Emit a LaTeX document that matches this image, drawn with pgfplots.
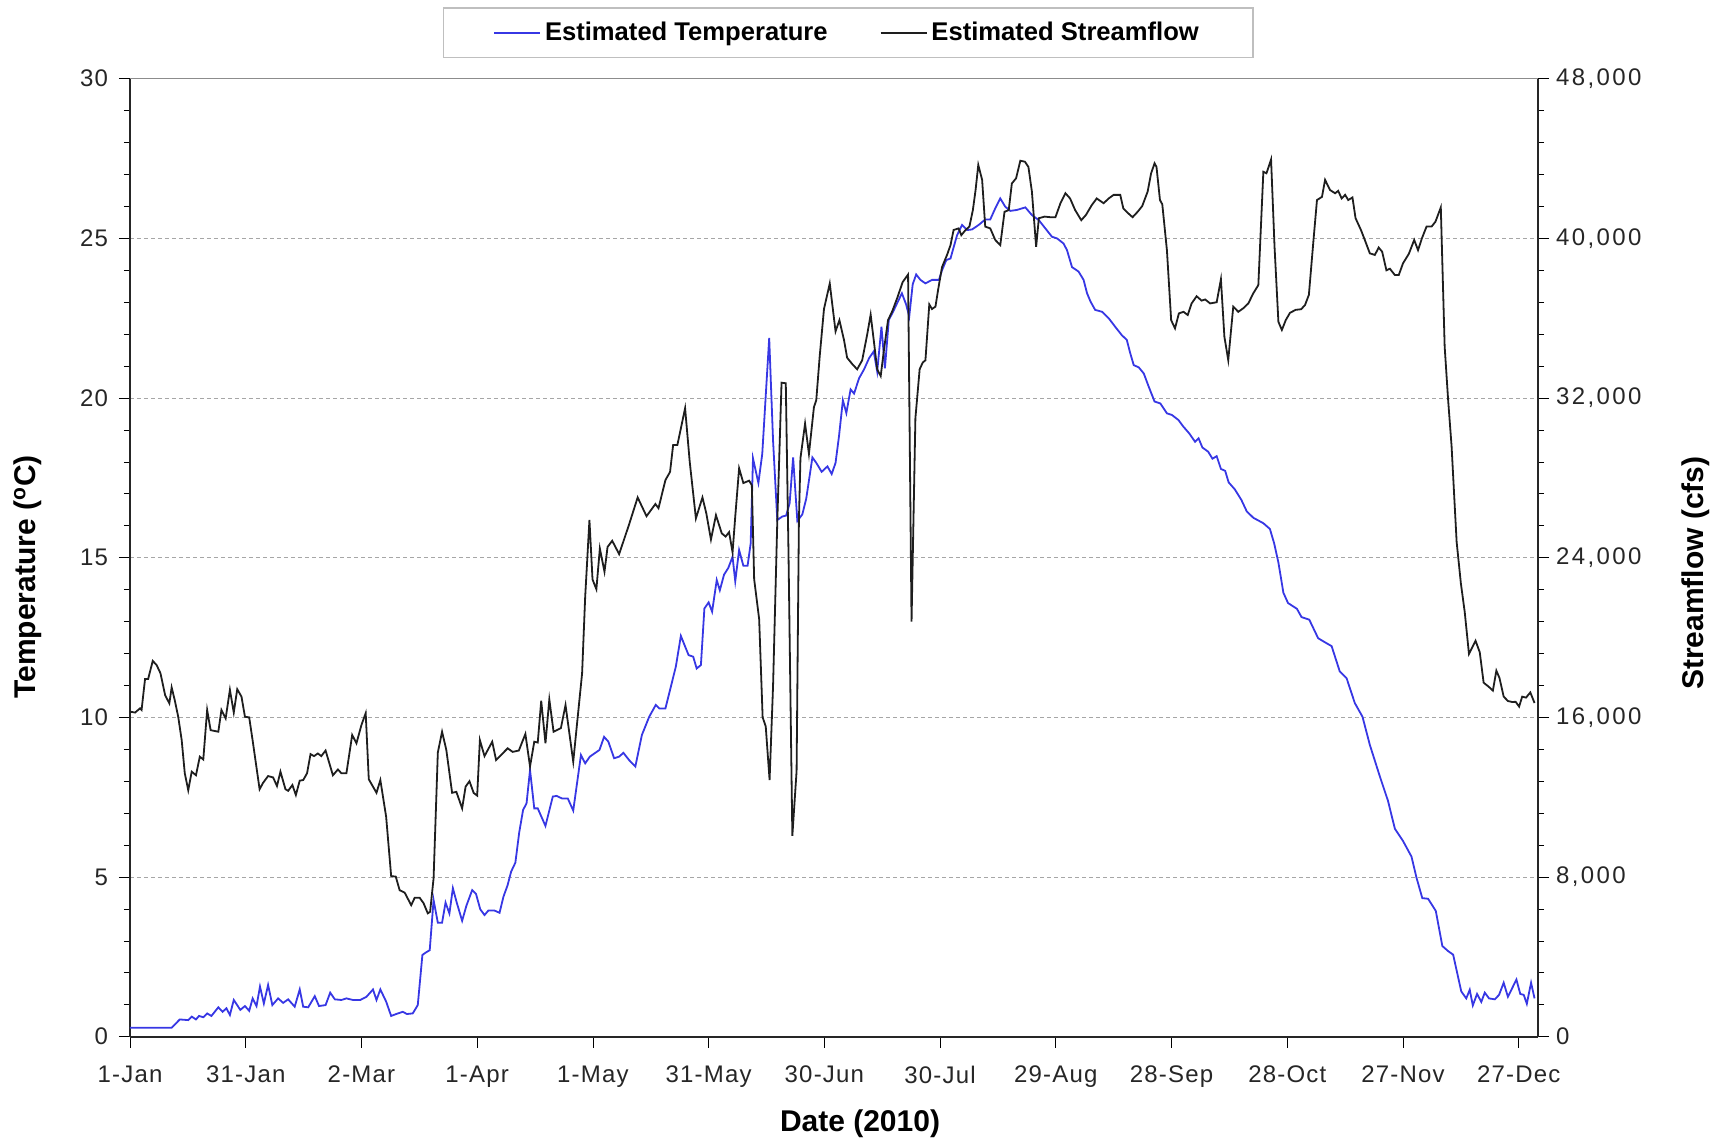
\documentclass[border=0pt]{standalone}
\usepackage{pgfplots}
\usepackage{pgfplotstable}
\pgfplotsset{compat=1.18}
\usepackage{fontspec}
\setmainfont{Liberation Sans}
\newfontfamily\tickfont[LetterSpace=5]{Liberation Sans}
\newfontfamily\widetickfont[LetterSpace=10]{Liberation Sans}

\definecolor{tempblue}{RGB}{55,55,228}
\definecolor{flowblack}{RGB}{30,30,30}

% day of 2010 (0 = 1 Jan), estimated temperature (deg C)
\pgfplotstableread{
day temp
0 0.28
10.8 0.28
12.9 0.54
15.1 0.52
16 0.63
17.1 0.54
17.9 0.65
19 0.61
20 0.73
21.1 0.65
22.9 0.92
24 0.78
25 0.89
25.9 0.68
26.9 1.15
28.6 0.84
29.8 0.96
30.9 0.81
31.8 1.2
32.8 0.96
33.7 1.57
34.7 1.04
35.8 1.62
36.9 0.99
38.4 1.2
39.7 1.06
41 1.17
42.7 0.94
44 1.48
44.9 0.94
46.2 0.92
47.9 1.27
49 0.96
50.7 0.99
51.9 1.38
53.1 1.17
54.8 1.15
56.1 1.2
57.8 1.15
59.7 1.15
61.3 1.25
63 1.48
63.9 1.15
64.9 1.48
66.4 1.1
67.7 0.65
69 0.71
70.7 0.78
71.8 0.71
73.3 0.73
74.6 0.99
75.8 2.56
76.6 2.63
77.7 2.71
78.7 4.28
79.8 3.57
80.9 3.57
81.8 4.2
82.8 3.86
83.7 4.65
84.7 4.2
86.1 3.63
87.2 4.1
88.7 4.59
89.7 4.47
90.8 3.99
91.9 3.81
92.9 3.95
94.5 3.95
95.8 3.88
96.8 4.38
97.9 4.75
98.8 5.17
99.9 5.45
100.9 6.4
101.9 7.1
102.8 7.31
103.7 8.35
104.8 7.15
105.7 7.15
107.7 6.6
109.6 7.52
110.6 7.54
112 7.46
113.5 7.46
114.9 7.08
116.9 8.82
118 8.56
119.2 8.77
121.7 8.98
122.9 9.39
124 9.24
125.5 8.72
126.8 8.77
127.9 8.89
129.4 8.66
131 8.46
132.7 9.45
134.6 10.02
136.3 10.39
137.2 10.28
138.8 10.28
141.5 11.59
142.8 12.55
144.8 11.95
146 11.9
146.9 11.53
148 11.64
148.9 13.41
150 13.6
150.9 13.31
152.1 14.3
152.9 13.98
154 14.47
155.1 14.68
156.2 15.03
156.9 14.26
157.9 15.24
159 14.75
160.1 14.75
160.9 15.45
161.5 18.11
162.9 17.34
163.9 18.25
165.7 21.88
166.7 18.67
167.8 16.18
169.1 16.29
170.1 16.32
171 16.71
171.9 18.14
173 16.15
174.3 16.36
175.3 16.85
176.9 18.14
177.9 17.97
179.3 17.69
180.8 17.86
181.9 17.62
182.9 17.97
183.8 18.81
184.8 19.93
185.7 19.53
186.8 20.27
187.7 20.14
189 20.62
190.3 20.9
191.6 21.25
192.8 21.46
193.7 20.83
194.8 22.23
195.7 20.93
196.7 22.44
198 22.75
199.1 23.03
200.1 23.28
201.2 22.93
202 22.55
202.9 23.56
203.8 23.87
204.9 23.7
206.2 23.59
207.9 23.7
209.7 23.7
210.5 24.0
211.6 24.32
212.7 24.37
213.3 24.63
214.4 25.1
215.7 25.42
217 25.26
218.3 25.28
220 25.42
221.7 25.59
223 25.59
224.3 25.94
225.6 26.25
226.9 25.99
228.2 25.86
229.9 25.89
232.1 25.97
233.8 25.73
235.6 25.57
237.3 25.31
239 25.05
240.3 25.0
242 24.84
242.9 24.63
244.2 24.1
245.9 23.96
247.2 23.7
248.1 23.28
249 23.02
250.2 22.76
252 22.7
253.7 22.5
255.4 22.23
257.1 21.97
258.4 21.82
259.3 21.4
260.2 21.03
261.5 20.96
262.8 20.77
264.1 20.35
265.6 19.89
267.1 19.83
268.8 19.52
270.1 19.47
271.8 19.31
273.1 19.1
274.6 18.89
276.1 18.63
277 18.74
278 18.45
279.5 18.32
280.6 18.1
281.7 18.18
282.8 17.78
283.9 17.72
284.8 17.36
286.4 17.14
288.1 16.81
289.5 16.45
291.2 16.25
293.8 16.08
295.5 15.9
296.6 15.45
297.7 14.85
299 13.9
300.2 13.58
302.5 13.4
303.7 13.14
305.7 13.06
308 12.48
309.5 12.37
311.5 12.23
313.6 11.44
315.4 11.22
317.5 10.45
319.5 10.02
321.4 9.14
324 8.15
326.1 7.39
327.9 6.51
330 6.13
332.2 5.64
333.5 4.98
335 4.34
336.5 4.32
338.5 3.94
340.2 2.84
341.7 2.68
343 2.57
345.1 1.42
346.4 1.2
347.3 1.47
348.1 0.98
349.2 1.34
350.3 1.09
351.2 1.38
352.3 1.2
353.8 1.17
354.9 1.31
356.1 1.69
357.2 1.25
359.4 1.79
360.4 1.34
361.3 1.31
362.1 1.03
363.2 1.69
364.1 1.2
}\temptable

% day of 2010, estimated streamflow (cfs)
\pgfplotstableread{
day flow
0 16290
1.3 16240
2.6 16450
3 16370
3.9 17920
4.7 17920
5.9 18830
6.9 18620
7.9 18210
9.1 17120
10.2 16700
10.8 17500
11.6 16860
12.5 16030
13.4 14860
14.2 13200
15.1 12350
16 13280
17.1 13100
18.1 14030
19 13890
20 16370
20.9 15360
22.9 15280
23.7 16370
24.8 15950
25.9 17380
26.9 16240
27.8 17410
28.9 17040
29.8 16030
30.9 16000
31.9 14700
33.6 12400
34.5 12720
35.8 13060
37.1 12990
38.1 12560
39 13280
40.3 12400
41 12320
42.1 12610
43 12110
44 12830
44.9 12860
45.9 13200
46.8 14160
47.7 14060
48.7 14190
49.6 14060
50.7 14340
52.6 13100
53.9 13390
54.8 13200
56.1 13200
57.6 15120
58.7 14700
60 15620
61.1 16210
61.9 12900
63.9 12220
64.9 12860
66.4 11020
67.7 8050
68.9 8020
69.9 7340
71.2 7220
72.9 6590
73.8 6960
75.1 6960
76.1 6690
77.2 6180
77.8 6260
78.7 7940
79.8 14240
80.9 15280
82 14370
83.5 12220
84.6 12270
86.1 11440
87 12530
88 12800
89.1 12210
90 12080
90.7 14860
91.9 14060
93.9 14780
94.9 13860
97.9 14450
99.2 14270
100.8 14340
102.5 15170
103.7 13540
104.8 14780
105.7 14740
106.6 16830
107.7 14700
108.7 16900
109.8 15280
111.7 15460
112.9 16620
114.9 13780
117.2 18210
118 22050
119.1 25890
119.9 22910
120.9 22420
121.8 24460
123 23300
123.8 24540
125 24850
126.8 24180
129.4 25680
131.6 27020
133.9 26080
136.2 26690
137 26480
138.8 27890
140 28300
140.8 29650
141.9 29650
143.9 31490
145.1 28800
146.7 25970
148.4 27020
149.4 26220
150.6 24910
151.9 26130
153.4 25220
154.4 25060
155.3 25280
156.2 24270
156.9 26060
157.9 28480
159 27740
160.5 27860
161.2 27630
161.8 22930
163.1 20910
164 16000
164.8 15550
165.8 12860
166.7 17570
167.8 25840
168.9 32770
170 32740
170.7 24270
171.7 10060
172.8 13310
173.4 25840
173.8 28980
175 30720
176 29200
177.3 31550
177.9 31890
178.8 34110
179.9 36460
181.4 37740
182.9 35340
183.9 35900
185.1 34900
185.9 34020
187.2 33710
188.5 33440
189.8 33890
191.1 35180
192 36180
192.8 34900
193.7 33440
194.6 33100
195.4 34340
196.5 35900
197.6 36350
198.9 37020
200.3 37810
201.7 38190
202.6 20800
203.6 30990
204.7 33440
205.5 33780
206.2 33890
207.2 36690
207.9 36460
208.8 36580
209.5 37440
210.5 38560
211.8 39170
212.7 39660
213.5 40420
214.8 40500
215.5 40160
216.6 40420
217.6 40590
218.5 41420
219.2 42420
219.9 43680
220.9 42930
221.7 40590
223 40500
224.3 39920
225.6 39660
226.7 41330
227.8 41420
228.6 42750
229.7 43010
230.8 43890
232 43840
232.9 43580
233.8 42340
234.9 39580
235.6 41010
237.1 41090
238.6 41060
239.9 41060
241.2 41760
242.5 42260
243.7 42000
245 41420
246.6 40910
247.8 41170
249.3 41660
250.6 42000
252.4 41760
253.7 42000
255 42180
256.7 42180
257.5 41500
258.8 41250
259.9 41060
261.2 41330
262.4 41620
263.8 42340
264.7 43260
265.6 43760
266.1 43580
267 41920
267.6 41710
268.8 39410
269.9 35900
270.9 35490
271.9 36240
273.1 36320
274.2 36160
275.2 36740
276.5 37100
277.8 36880
278.7 36940
280 36740
281.7 36800
282.8 37950
283.7 35070
284.7 33900
286 36580
287.3 36320
288.6 36500
289.9 36740
291.2 37250
292.5 37660
292.9 39410
293.8 43340
294.6 43260
295.8 43950
296.7 39580
297.7 35820
298.6 35410
299.6 35900
300.7 36270
302.2 36420
303.6 36450
304.6 36660
305.6 37170
306.8 39920
307.7 41920
309 42080
309.8 42930
311.1 42420
312.4 42260
313.2 42380
314.1 42000
315 42180
315.8 41920
316.9 42050
317.7 41010
319.1 40420
320.1 39920
321.4 39250
322.7 39170
323.7 39540
324.6 39330
325.7 38400
326.6 38480
327.9 38160
328.9 38160
330 38750
331.5 39220
332.9 39920
333.9 39410
334.9 40000
336.1 40590
337.4 40590
338.4 40830
339.8 41550
340.8 34580
341.7 31900
342.6 29570
343.9 24800
345 22720
346 21280
347.1 19180
348.8 19840
349.9 19260
350.9 17740
352.3 17520
353.3 17340
354.2 18340
355 17980
356.1 17040
357.2 16820
358.3 16770
359.2 16780
360.1 16540
360.9 17040
361.9 16990
363 17250
364.1 16720
}\flowtable

\pgfplotsset{
  base/.style={
    scale only axis, width=704pt, height=479pt,
    at={(0,0)}, anchor=south west,
    xmin=0, xmax=365,
    tick align=outside,
    major tick length=5.5pt, minor tick length=3pt,
    tick style={black, thin},
    axis line style={black!85, line width=0.8pt},
    ticklabel style={font=\tickfont\fontsize{12}{14}\selectfont, text=black!85},
    /pgf/number format/assume math mode=true,
    label style={font=\bfseries\fontsize{15}{18}\selectfont},
  }
}

\begin{document}
\begin{tikzpicture}
\path[use as bounding box] (-65pt,-52.65pt) rectangle (797pt,518.35pt);

\begin{axis}[base,
  axis x line*=bottom, axis y line*=left,
  ymin=0, ymax=30, ytick={0,5,...,30},
  minor y tick num=4,
  xtick={0,30,...,360},
  xticklabels={1-Jan,31-Jan,2-Mar,1-Apr,1-May,31-May,30-Jun,30-Jul,29-Aug,28-Sep,28-Oct,27-Nov,27-Dec},
  xticklabel style={yshift=-5.5pt},
  yticklabel style={xshift=-2pt},
  ymajorgrids,
  major grid style={black!35, dash pattern=on 2pt off 1.5pt, line width=0.5pt},
  xlabel={Date (2010)},
  ylabel={Temperature (\textsuperscript{o}C)},
  xlabel style={at={(axis description cs:0.5185,-0.091)}, anchor=center},
  ylabel style={at={(axis description cs:-0.0724,0.48)}, anchor=center},
]
\draw[black!45, line width=0.8pt] (rel axis cs:0,1) -- (rel axis cs:1,1);
\addplot[tempblue, line width=0.9pt, no marks] table[x=day, y=temp] {\temptable};
\end{axis}

\begin{axis}[base,
  axis y line*=right, axis x line=none,
  ymin=0, ymax=48000, ytick={0,8000,...,48000},
  minor y tick num=4,
  scaled y ticks=false,
  yticklabel style={font=\widetickfont\fontsize{12}{14}\selectfont,
    /pgf/number format/.cd, fixed, 1000 sep={,}},
  ylabel={Streamflow (cfs)},
  ylabel style={at={(axis description cs:1.112,0.484)}, anchor=center},
  legend columns=2,
  legend style={at={(axis description cs:0.51,1.048)}, anchor=center,
    draw=black!25, line width=0.6pt,
    font=\bfseries\fontsize{12.8}{15}\selectfont,
    inner xsep=25pt, inner ysep=5pt,
    /tikz/every even column/.append style={column sep=24pt}},
  legend image code/.code={\draw[#1] (0pt,0pt) -- (23pt,0pt);},
]
\addlegendimage{tempblue, line width=0.9pt}
\addlegendentry{Estimated Temperature}
\addplot[flowblack, line width=0.9pt, no marks] table[x=day, y=flow] {\flowtable};
\addlegendentry{Estimated Streamflow}
\end{axis}
\end{tikzpicture}
\end{document}
